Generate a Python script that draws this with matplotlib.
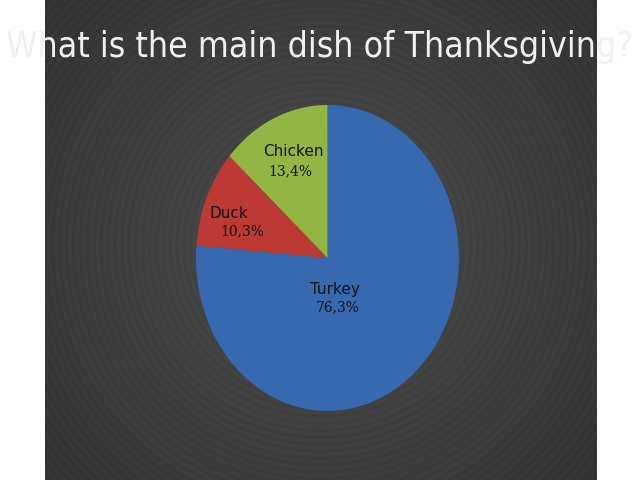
import numpy as np
import matplotlib
matplotlib.use("Agg")
import matplotlib.pyplot as plt

title = "What is the main dish of Thanksgiving?"
dishes = ["Turkey", "Duck", "Chicken"]
shares = [76.3, 10.3, 13.4]
pct_labels = ["76,3%", "10,3%", "13,4%"]
colors = ["#3669b0", "#bd3a34", "#93b544"]

fig = plt.figure(figsize=(6.4, 4.8), dpi=100)
fig.patch.set_facecolor("white")

# dark slide background with radial gradient and faint rings
bg = fig.add_axes([45 / 640, 0, (597 - 45) / 640, 1])
yy, xx = np.mgrid[0:480, 45:597]
r = np.hypot(xx - 320, yy - 245)
shade = 0.30 - 0.10 * (r / r.max()) + 0.008 * np.sin(r / 1.1)
bg.imshow(shade, cmap="gray", vmin=0, vmax=1, aspect="auto",
          interpolation="bilinear")
bg.set_axis_off()

# pie, slightly taller than wide like in the slide
ax = fig.add_axes([196 / 640, (480 - 411) / 480, 263 / 640, 306 / 480])
ax.pie(shares, colors=colors, startangle=90, counterclock=False,
       wedgeprops=dict(linewidth=0))
ax.set_aspect("auto")
ax.set_xlim(-1, 1)
ax.set_ylim(-1, 1)

name_pos = [(0.057, -0.209), (-0.749, 0.294), (-0.262, 0.693)]
pct_pos = [(0.080, -0.320), (-0.650, 0.176), (-0.285, 0.569)]
for i in range(len(dishes)):
    ax.text(*name_pos[i], dishes[i], ha="center", va="center", fontsize=11,
            color="#111111", family="DejaVu Sans")
    ax.text(*pct_pos[i], pct_labels[i], ha="center", va="center", fontsize=10,
            color="#111111", family="DejaVu Serif")

fig.text(0.5, 1 - 57 / 480, title, ha="center", va="baseline",
         fontsize=25.5, color="#f0f0f0", family="DejaVu Sans",
         fontstretch="condensed")

fig.savefig("out.png", dpi=100)
